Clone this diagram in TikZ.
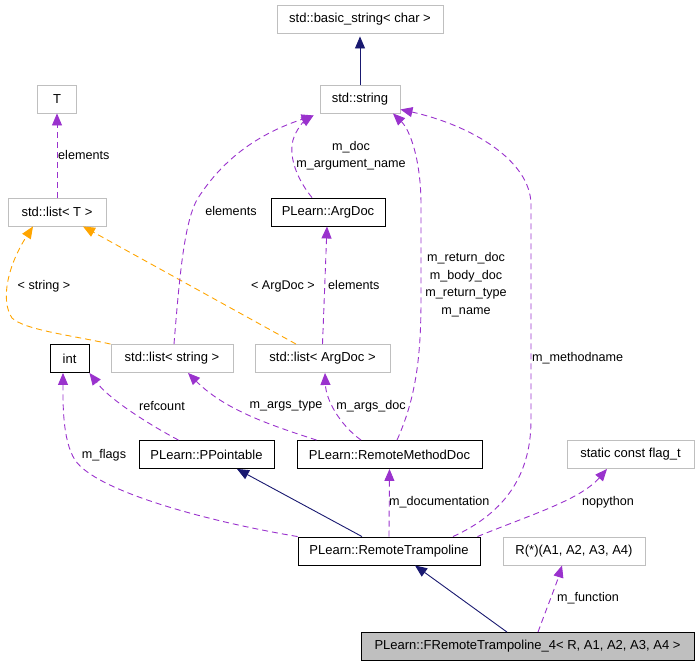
\documentclass[tikz,border=0pt]{standalone}
\usepackage{fontspec}
\setmainfont{Liberation Sans}
\usetikzlibrary{arrows.meta,positioning}
\definecolor{usecol}{HTML}{9A32CD}
\definecolor{inhcol}{HTML}{191970}
\definecolor{tplcol}{HTML}{FFA500}
\definecolor{extcol}{HTML}{BFBFBF}

\begin{document}
\begin{tikzpicture}[x=1pt,y=-1pt,
  cls/.style={draw=black,line width=0.9pt,minimum height=28pt,inner sep=0pt,font=\fontsize{13}{15}\selectfont},
  ext/.style={cls,draw=extcol},
  cur/.style={cls,fill=extcol},
  tip/.style={-{Triangle[length=12pt,width=10pt]}},
  inhedge/.style={tip,draw=inhcol,line width=0.9pt},
  usedge/.style={tip,draw=usecol,line width=0.9pt,dash pattern=on 6pt off 4pt},
  tpledge/.style={tip,draw=tplcol,line width=0.9pt,dash pattern=on 6pt off 4pt},
  lbl/.style={inner sep=0pt,align=center,font=\fontsize{12.6}{17.5}\selectfont}]
\useasboundingbox (0,0) rectangle (700,667);

% classes
\node[ext,minimum width=166pt] (bstr) at (360,19) {std::basic\_string< char >};
\node[ext,minimum width=80pt] (str) at (360,99) {std::string};
\node[ext,minimum width=39pt] (T) at (57,99) {T};
\node[ext,minimum width=98pt] (listT) at (57,212) {std::list< T >};
\node[cls,minimum width=114pt] (argdoc) at (328,212) {PLearn::ArgDoc};
\node[cls,minimum width=39pt] (int) at (69.5,358.5) {int};
\node[ext,minimum width=122pt] (liststr) at (172,358.5) {std::list< string >};
\node[ext,minimum width=135pt] (listarg) at (322.5,358.5) {std::list< ArgDoc >};
\node[cls,minimum width=135pt] (ppt) at (206.5,454.5) {PLearn::PPointable};
\node[cls,minimum width=185pt] (rmd) at (389.5,454.5) {PLearn::RemoteMethodDoc};
\node[ext,minimum width=127pt] (flag) at (630.5,454.5) {static const flag\_t};
\node[cls,minimum width=182pt] (rt) at (389,551) {PLearn::RemoteTrampoline};
\node[ext,minimum width=142pt] (rfun) at (574,551) {R(*)(A1, A2, A3, A4)};
\node[cur,minimum width=333pt] (frt) at (527.5,646.5) {PLearn::FRemoteTrampoline\_4< R, A1, A2, A3, A4 >};

% inheritance
\draw[inhedge] (str.north) -- ([yshift=-3pt]bstr.south);
\draw[inhedge] ([xshift=-27pt]rt.north) -- ([xshift=30.5pt]ppt.south);
\draw[inhedge] ([xshift=-20.5pt]frt.north) -- ([xshift=26pt]rt.south);

% template instances
\draw[tpledge] (liststr.north west) .. controls (70,335) and (25,330) .. (12,318)
  .. controls (0,300) and (8,265) .. ([xshift=-24pt]listT.south);
\draw[tpledge] ([xshift=-26.5pt]listarg.north) -- ([xshift=26pt]listT.south);

% members
\draw[usedge] (listT.north) -- (T.south);
\draw[usedge] ([xshift=2pt]liststr.north) .. controls (180,270) and (185,215) .. (200,195)
  .. controls (230,150) and (270,130) .. ([xshift=-6pt,yshift=-2pt]str.south west);
\draw[usedge] ([xshift=-16pt]argdoc.north) .. controls (300,183) and (288,160) .. (293,140)
  .. controls (296,130) and (303,122) .. ([xshift=-6pt,yshift=-2pt]str.south west);
\draw[usedge] (listarg.north) -- ([xshift=-1pt]argdoc.south);
\draw[usedge] ([xshift=7.5pt]rmd.north) .. controls (415,400) and (421,360) .. (421,300)
  -- (421,205) .. controls (421,160) and (410,130) .. ([xshift=33pt]str.south);
\draw[usedge] ([xshift=64pt]rt.north) .. controls (500,515) and (531,480) .. (531,420)
  -- (531,205) .. controls (531,160) and (470,125) .. ([yshift=4pt]str.south east);
\draw[usedge] ([xshift=-28pt]ppt.north) .. controls (150,425) and (110,400) .. (int.south east);
\draw[usedge] (rt.north west) .. controls (200,520) and (95,490) .. (75,460)
  .. controls (62,440) and (63,400) .. ([xshift=-6.5pt]int.south);
\draw[usedge] ([xshift=20pt]rmd.north west) .. controls (270,425) and (225,410) .. ([xshift=16pt]liststr.south);
\draw[usedge] ([xshift=-28.5pt]rmd.north) .. controls (340,425) and (326,400) .. ([xshift=2.5pt]listarg.south);
\draw[usedge] (rt.north) -- (rmd.south);
\draw[usedge] ([xshift=-3pt]rt.north east) .. controls (530,515) and (580,500) .. ([xshift=-23.5pt]flag.south);
\draw[usedge] ([xshift=10.5pt]frt.north) .. controls (546,610) and (556,585) .. ([xshift=-12pt]rfun.south);

% labels
\node[lbl,anchor=west] (lelT) at (58,155) {elements};
\node[lbl] (lelstr) at (231,211) {elements};
\node[lbl] (ldoc) at (351,155.5) {m\_doc\\m\_argument\_name};
\node[lbl,anchor=west] (lelarg) at (328,285) {elements};
\node[lbl] (lstring) at (44,286) {< string >};
\node[lbl] (largdoc) at (283,286) {< ArgDoc >};
\node[lbl] (lret) at (466,284.5) {m\_return\_doc\\m\_body\_doc\\m\_return\_type\\m\_name};
\node[lbl,anchor=west] (lmeth) at (532,358) {m\_methodname};
\node[lbl] (lref) at (162,406) {refcount};
\node[lbl] (ltype) at (286,406) {m\_args\_type};
\node[lbl] (lads) at (371,406) {m\_args\_doc};
\node[lbl] (lflags) at (104,455) {m\_flags};
\node[lbl,anchor=west] (ldocu) at (389,502) {m\_documentation};
\node[lbl] (lnopy) at (608,502) {nopython};
\node[lbl] (lfun) at (588,598) {m\_function};
\end{tikzpicture}
\end{document}
